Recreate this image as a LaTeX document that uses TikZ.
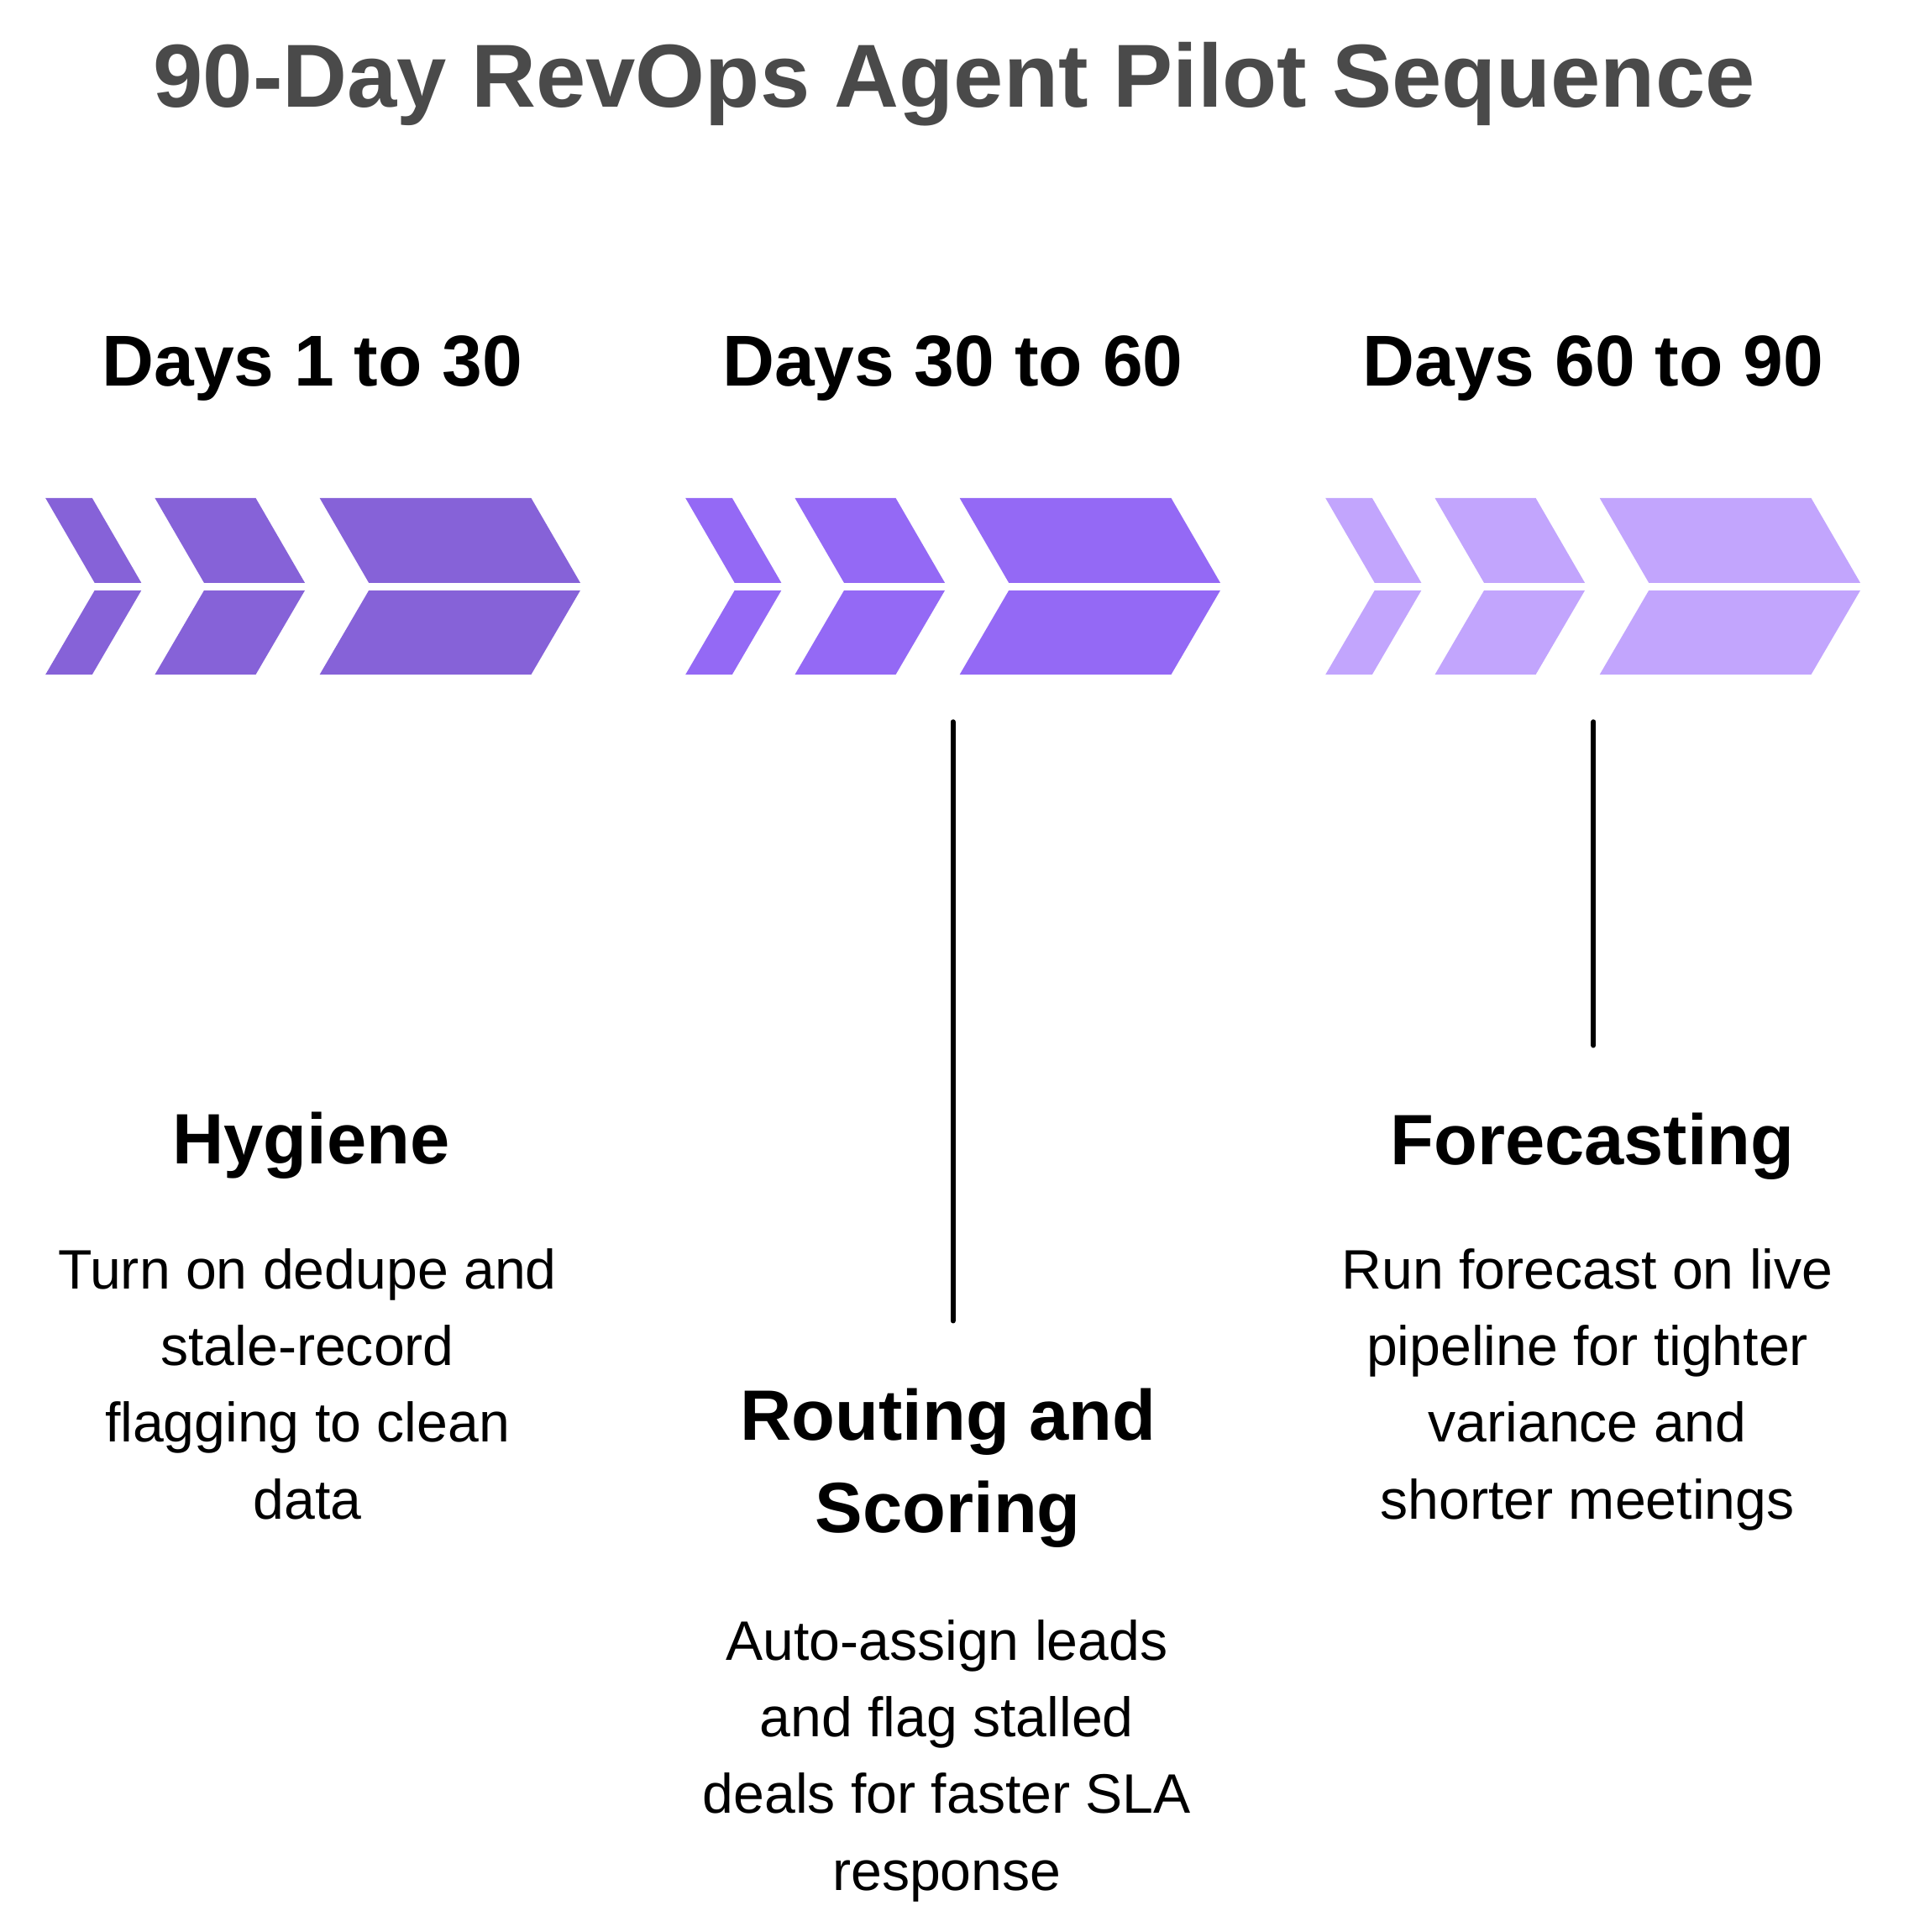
\documentclass[tikz,border=0pt]{standalone}
\usepackage{fontspec}
\setmainfont{Liberation Sans}
\usepackage{xcolor}
\usepackage{tikz}
\usetikzlibrary{positioning}
\definecolor{phaseA}{HTML}{8662D8}
\definecolor{phaseB}{HTML}{9469F5}
\definecolor{phaseC}{HTML}{C2A5FD}
\definecolor{titlegray}{HTML}{4A4A4A}

\begin{document}
\begin{tikzpicture}[
		x=0.5pt, y=-0.5pt,
		phase/.style={font=\fontsize{29.3}{36}\selectfont\bfseries, anchor=base},
		head/.style={font=\fontsize{29}{37.5}\selectfont\bfseries, align=center, anchor=base},
		body/.style={font=\fontsize{22.6}{31.2}\selectfont, align=center, anchor=base},
		stem/.style={line width=2.1pt, line cap=round}
		]
		\useasboundingbox (0,0) rectangle (1552,1571);
		
		% draw title
		\node[font=\fontsize{36.4}{40}\selectfont\bfseries, text=titlegray, anchor=base] (title) at (776,87) {90-Day RevOps Agent Pilot Sequence};
		
		% draw phase labels and chevrons
		\foreach \lbl/\col [count=\step from 0] in {Days 1 to 30/phaseA,Days 30 to 60/phaseB,Days 60 to 90/phaseC} {
			\node[phase] (d\step) at (254+520.8*\step, 314) {\lbl};
			\foreach \x/\w in {37/38, 126/82, 260/172} {
				\fill[\col] ({\x+520.5*\step},405) -- ++(\w,0) -- ++(40,69) -- ++(-\w,0) -- cycle;
				\fill[\col] ({\x+520.5*\step+40},480) -- ++(\w,0) -- ++(-40,68.5) -- ++(-\w,0) -- cycle;
			}
		}
		
		% draw stems
		\coordinate (s1) at (775,587);
		\coordinate (e1) at (775,1074);
		\coordinate (s2) at (1296,587);
		\coordinate (e2) at (1296,850);
		\draw[stem] (s1) -- (e1);
		\draw[stem] (s2) -- (e2);
		
		% draw headings (base = last line)
		\node[head] (hyg) at (253,946) {Hygiene};
		\node[head] (rout) at (771,1246) {Routing and\\Scoring};
		\node[head] (fore) at (1295,947) {Forecasting};
		
		% draw descriptions
		\node[body] (hygtxt) at (250,1235) {Turn on dedupe and\\stale-record\\flagging to clean\\data};
		\node[body] (routtxt) at (770,1537) {Auto-assign leads\\and flag stalled\\deals for faster SLA\\response};
		\node[body] (foretxt) at (1291,1235) {Run forecast on live\\pipeline for tighter\\variance and\\shorter meetings};
		\end{tikzpicture}
\end{document}
